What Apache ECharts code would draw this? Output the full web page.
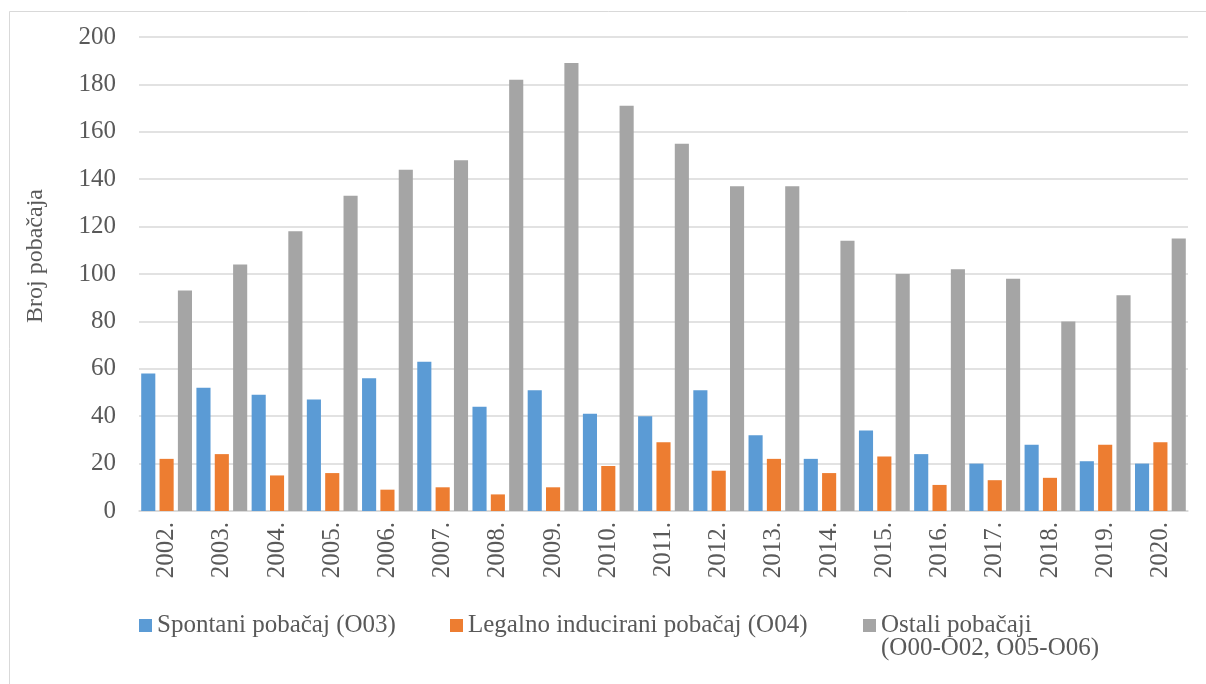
<!DOCTYPE html>
<html>
<head>
<meta charset="utf-8">
<script src="https://cdn.jsdelivr.net/npm/echarts@6/dist/echarts.min.js"></script>
<style>
html,body{margin:0;padding:0;background:#fff;}
#chart{width:1206px;height:684px;}
</style>
</head>
<body>
<div id="chart"></div>
<script>
const years = ['2002.','2003.','2004.','2005.','2006.','2007.','2008.','2009.','2010.','2011.','2012.','2013.','2014.','2015.','2016.','2017.','2018.','2019.','2020.'];
const spontani = [58, 52, 49, 47, 56, 63, 44, 51, 41, 40, 51, 32, 22, 34, 24, 20, 28, 21, 20];
const legalno = [22, 24, 15, 16, 9, 10, 7, 10, 19, 29, 17, 22, 16, 23, 11, 13, 14, 28, 29];
const ostali = [93, 104, 118, 133, 144, 148, 182, 189, 171, 155, 137, 137, 114, 100, 102, 98, 80, 91, 115];
const seriesNames = ['Spontani pobačaj (O03)', 'Legalno inducirani pobačaj (O04)', 'Ostali pobačaji (O00-O02, O05-O06)'];
const yTicks = { min: 0, max: 200, interval: 20 };
const yTitle = 'Broj pobačaja';

const FONT = 'Liberation Serif';
const TXT = '#595959';
const colors = ['#5b9bd5', '#ed7d31', '#a5a5a5'];

const chart = echarts.init(document.getElementById('chart'), null, {renderer: 'canvas'});

function legendFor(i, left, top, extra) {
  return Object.assign({
    data: [seriesNames[i]],
    left: left, top: top,
    padding: 0,
    icon: 'rect',
    itemWidth: 13, itemHeight: 13,
    itemGap: 0,
    selectedMode: false,
    textStyle: {fontFamily: FONT, fontSize: 25, color: TXT, lineHeight: 23}
  }, extra || {});
}

chart.setOption({
  backgroundColor: '#fff',
  animation: false,
  color: colors,
  graphic: [{
    type: 'rect', left: 7, top: 9, z: -10,
    shape: {width: 1400, height: 900},
    style: {fill: 'none', stroke: '#d9d9d9', lineWidth: 1}
  }],
  grid: {left: 139, right: 18, top: 37, bottom: 173, containLabel: false},
  legend: [
    legendFor(0, 139, 613),
    legendFor(1, 450, 613),
    legendFor(2, 863, 590, {
      formatter: function () { return '\nOstali pobačaji\n(O00-O02, O05-O06)'; }
    })
  ],
  xAxis: {
    type: 'category',
    data: years,
    axisLine: {show: true, lineStyle: {color: '#d9d9d9', width: 1.5}},
    axisTick: {show: false},
    axisLabel: {rotate: 90, margin: 11, fontFamily: FONT, fontSize: 25, color: TXT}
  },
  yAxis: {
    type: 'value',
    min: yTicks.min, max: yTicks.max, interval: yTicks.interval,
    name: yTitle,
    nameLocation: 'middle',
    nameGap: 91,
    nameTextStyle: {fontFamily: FONT, fontSize: 24, color: TXT, padding: [0, 0, 0, 36]},
    axisLine: {show: false},
    axisTick: {show: false},
    splitLine: {lineStyle: {color: '#d9d9d9', width: 1.5}},
    axisLabel: {margin: 23, fontFamily: FONT, fontSize: 25, color: TXT}
  },
  series: [
    {name: seriesNames[0], type: 'bar', data: spontani, barGap: '30%', barCategoryGap: '8%'},
    {name: seriesNames[1], type: 'bar', data: legalno, barGap: '30%', barCategoryGap: '8%'},
    {name: seriesNames[2], type: 'bar', data: ostali, barGap: '30%', barCategoryGap: '8%'}
  ]
});
</script>
</body>
</html>
